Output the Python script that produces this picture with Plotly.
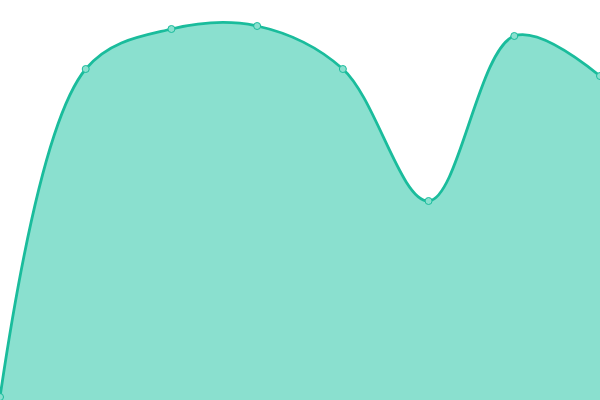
import plotly.graph_objects as go

x_idx = [0, 1, 2, 3, 4, 5, 6, 7]
values = [3, 331, 371, 374, 331, 199, 364, 324]

fig = go.Figure()
fig.add_trace(go.Scatter(
    x=x_idx, y=values,
    mode="lines+markers",
    line=dict(color="#1abc9c", width=2.8, shape="spline", smoothing=1.0),
    fill="tozeroy",
    fillcolor="#8ae0cf",
    marker=dict(size=7, color="#8ae0cf", line=dict(color="#1abc9c", width=1)),
    hoverinfo="skip",
    cliponaxis=False,
))
fig.update_layout(
    width=600, height=400,
    margin=dict(l=0, r=0, t=0, b=0),
    paper_bgcolor="white", plot_bgcolor="white",
    showlegend=False,
    xaxis=dict(range=[0, 7], visible=False, fixedrange=True),
    yaxis=dict(range=[0, 400], visible=False, fixedrange=True),
)
fig.write_html(
    "out.html",
    config={"displayModeBar": False},
    post_script="document.body.style.margin='0';document.body.style.overflow='hidden';",
)
